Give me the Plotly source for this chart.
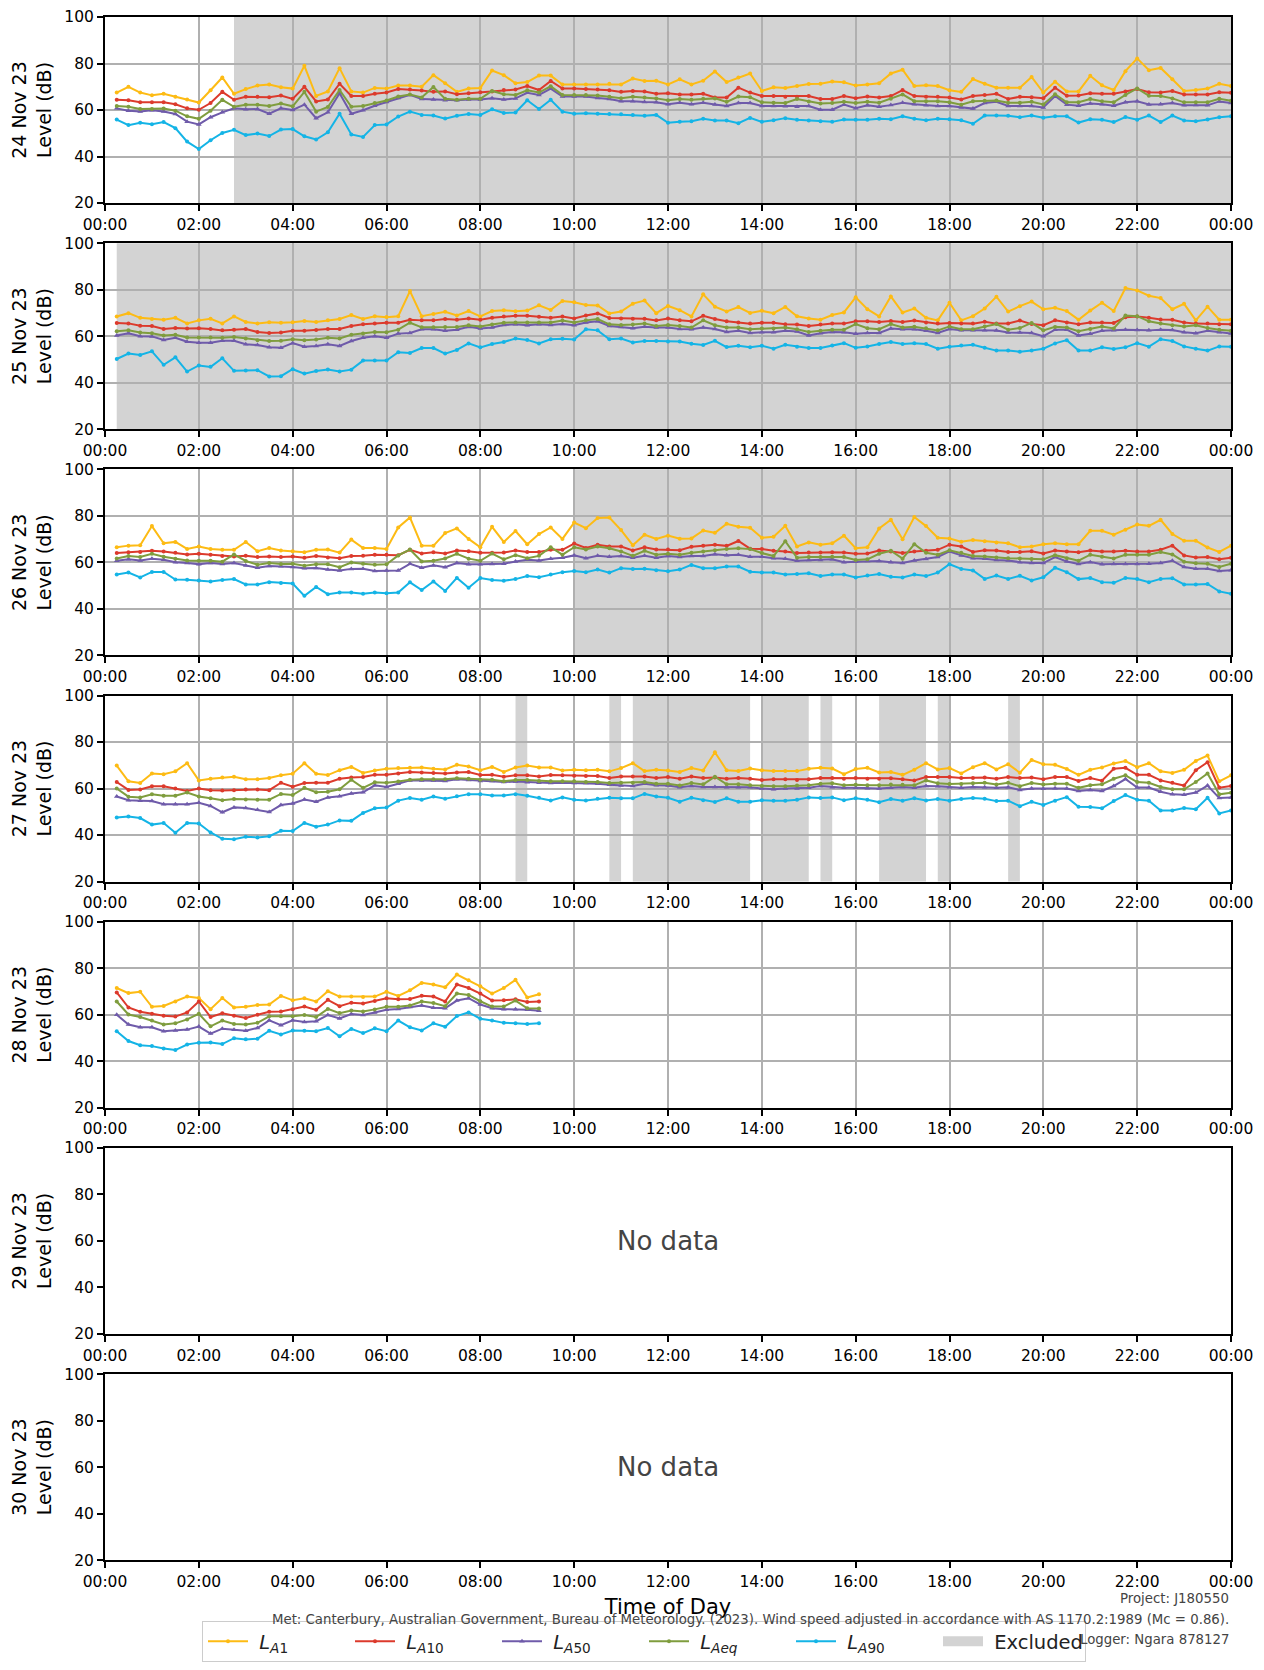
import datetime as dt
import plotly.graph_objects as go

# ---------------- data ----------------
days = ["24 Nov 23", "25 Nov 23", "26 Nov 23", "27 Nov 23", "28 Nov 23", "29 Nov 23", "30 Nov 23"]
series_names = ["LA1", "LA10", "LA50", "LAeq", "LA90"]
series_labels = ["<i>L</i><sub><i>A</i>1</sub>", "<i>L</i><sub><i>A</i>10</sub>",
                 "<i>L</i><sub><i>A</i>50</sub>", "<i>L</i><sub><i>Aeq</i></sub>",
                 "<i>L</i><sub><i>A</i>90</sub>"]

d24_la1 = [67.5, 70, 67.5, 66.3, 67, 65.7, 64.5, 63.2, 68.5, 74, 67, 69, 70.5, 71, 69.8, 69.2,
           79, 66, 68, 78, 68, 67.5, 69.5, 69.2, 70.5, 70.5, 70, 75, 71.5, 67.8, 69.2, 69.5,
           77, 75, 71.5, 72, 74.8, 74.8, 71, 71, 71, 71, 71.3,
           71, 73.5, 72.5, 72.6, 71, 73.2, 71, 72.6, 76.6, 72, 74, 75.7, 68.2, 69.8, 69.5, 70.3,
           71.2, 71.3, 72.3, 71.9, 70.5, 71, 71.5, 75.7, 77.3, 70.3, 70.6, 70.3, 68.5, 67.8, 73.3, 71.3,
           69.6, 69.6, 69.6, 74.2, 67.5, 72.2, 68, 68, 74.7, 70.6, 68.6, 76.7, 82.2, 77.1, 78.1, 73.2,
           68.2, 68.6, 69.2, 71.3, 70.3]
d24_la10 = [64.4, 64.2, 63.3, 63.3, 63.3, 62.5, 60.7, 60.1, 63, 67.8, 64.4, 65.7, 65.7, 65.5, 66.2, 64.8,
            70, 63.7, 64.5, 71.3, 66, 66, 67, 67.5, 69, 68.8, 68.4, 67.8, 68, 66.8, 67.2, 67.6,
            68, 68.6, 68.8, 70.3, 68.6, 72.5, 69.2, 69.2, 69, 68.8, 68.5,
            67.8, 68.2, 68, 67, 67.2, 66.7, 66.7, 67, 65.4, 65.4, 69.6, 67.5, 66, 66, 65.7, 65.7,
            66, 64.7, 64.7, 66, 65.1, 65.8, 65.4, 66, 68.6, 66, 65.7, 65.7, 65.4, 64.5, 66, 66.4,
            67, 64.7, 65.7, 65.5, 65.1, 69.6, 66.1, 66.2, 67.2, 67, 67, 68, 69, 67.6, 67.5, 68.2,
            66.7, 66.7, 66.7, 67.6, 67.4]
d24_la50 = [60.7, 59.7, 59.4, 59.9, 59.4, 58.3, 55, 53.8, 56.9, 59, 60.7, 60.3, 60.4, 58.4, 60.7, 60,
            62.3, 56.5, 59, 67.2, 58.4, 59.9, 61.8, 63.4, 65.2, 66.5, 64.7, 64.5, 64.2, 64.2, 64.5, 64.5,
            65.1, 64.5, 65, 67.4, 66.5, 69.2, 65.8, 65.8, 65.8, 65.2, 64.7,
            63.8, 63.8, 63.4, 63.3, 62.5, 63.1, 62.5, 63.1, 62.4, 61.7, 63, 63, 61.7, 61.7, 61.6, 61.4,
            61.7, 60.1, 60.1, 62.3, 60.8, 62, 61.4, 62.1, 63.1, 62.5, 62, 61.7, 61.7, 61.1, 60.6, 63,
            63.5, 61.7, 61.7, 61.7, 61.1, 66, 62.3, 61.8, 62.8, 62.5, 61.8, 63.3, 63.8, 62.4, 62.5, 63,
            62, 62.1, 62, 63.7, 63]
d24_laeq = [61.7, 61.4, 60.4, 60.4, 60.6, 59.7, 57.3, 56.2, 59.7, 64.4, 61.4, 62.3, 62.3, 61.7, 62.8, 61.6,
            67.8, 59.3, 61.3, 68.6, 61.4, 61.7, 63, 64.1, 65.8, 66.7, 65.4, 69.9, 64.8, 64.4, 64.8, 64.8,
            68.2, 66.8, 66.5, 68.5, 67.5, 70.2, 66.5, 66.4, 66.4, 66.2, 65.7,
            65.1, 65.7, 65.4, 65, 64.2, 64.7, 64.4, 64.8, 65, 63.5, 65.8, 65.5, 63.3, 63.1, 63, 64.7,
            63.7, 62.8, 63, 63.5, 63, 63.5, 63.1, 64.8, 66.7, 63.8, 63.8, 63.8, 63.3, 62.3, 63.8, 64,
            64.1, 63.1, 63.1, 63.5, 62.4, 66.8, 63.3, 63.3, 64.7, 63.8, 63.3, 66.5, 69.3, 66.1, 66, 65,
            63.3, 63.3, 63.3, 64.8, 64]
d24_la90 = [55.9, 53.5, 54.5, 53.9, 54.8, 52.2, 46.4, 43.2, 47, 50.1, 51.5, 49.2, 49.9, 48.8, 51.6, 51.8,
            48.7, 47.3, 50.4, 58.4, 49.5, 48.4, 53.5, 53.8, 57.2, 59.3, 57.9, 57.6, 56.3, 57.5, 58.3, 57.9,
            60.3, 58.7, 58.9, 64.2, 60.4, 64.4, 59.3, 58.4, 58.6, 58.4, 58.3,
            58.2, 57.9, 57.5, 57.9, 54.5, 55, 55.2, 56.2, 55.5, 55.5, 54.3, 56.6, 54.9, 55.6, 56.5, 55.8,
            55.5, 55.2, 54.9, 55.9, 55.8, 55.8, 56.2, 56, 57.3, 56.2, 55.6, 56.2, 56, 55.6, 54.1, 57.6,
            57.6, 57.5, 56.9, 57.6, 56.7, 57.3, 57.3, 54.6, 56, 55.8, 54.8, 57, 55.8, 57.6, 54.8, 57.6,
            55.5, 55.2, 55.9, 56.9, 57.3]

d25_la1 = [68.5, 69.9, 67.9, 67.4, 67.1, 67.9, 65.5, 66.8, 67.5, 65.5, 68.5, 66.1, 65.5, 66, 65.8, 66,
           66.5, 66.1, 66.8, 67.4, 69.1, 67.4, 68.6, 68.2, 68.6, 79.4, 68.6, 69.5, 70.5, 68.9, 70.8, 68.5,
           70.8, 71.2, 70.7, 71, 73.3, 71.3, 75.1, 74.6, 73.4, 73.2, 69.8,
           70.6, 74, 75.3, 69.9, 73, 71.2, 68.5, 78, 72.7, 70.6, 72.5, 70, 70.9, 69.9, 72.6, 68.6,
           67.6, 67.1, 69.1, 70.2, 76.7, 71.6, 68.5, 77.1, 70.2, 71.9, 67.9, 66.8, 74.4, 66.8, 68.6, 71.9,
           77, 70.6, 72.9, 74.9, 71.6, 72.2, 70.8, 67.1, 71, 74.4, 70.8, 80.7, 79.7, 77.4, 76.4, 71.6,
           73.9, 66.8, 72.7, 67.1, 67.1]
d25_la10 = [65.7, 65.5, 64.5, 64.4, 63.1, 63.5, 63.3, 63.4, 63.1, 62.5, 62.8, 63.1, 61.8, 61.4, 61.6, 62.3,
            62.3, 62.7, 63.1, 63.1, 64.4, 65.1, 65.5, 65.8, 65.8, 67.1, 66.8, 66.8, 67.4, 67.1, 67.6, 67.1,
            67.9, 68.5, 68.8, 68.8, 68.4, 67.9, 68.5, 67.6, 68.9, 69.8, 67.8,
            67.6, 67.5, 67.5, 66.8, 67.6, 66.9, 66.4, 68.8, 67.4, 66.4, 65.9, 65.4, 65.8, 65.8, 65.1, 65,
            64.4, 65, 65.4, 65.4, 66.4, 66.4, 66.1, 66.5, 66.1, 66.7, 65.9, 65.4, 65.7, 65.4, 65.4, 66.2,
            65.4, 65.5, 66.7, 65.2, 64.7, 66.8, 65.9, 65.1, 65.9, 65.9, 65.7, 68.1, 68.5, 67.9, 67.2, 67.1,
            65.9, 65.4, 65.4, 65.1, 65.1]
d25_la50 = [60.3, 61.3, 60, 59.9, 58.4, 59.3, 57.6, 57.2, 57.2, 58, 58, 56.5, 56.2, 55.2, 55, 57,
            55.5, 55.8, 56.5, 55.8, 57.9, 59.3, 60, 59.3, 61.1, 61.4, 63, 63, 62.3, 62.8, 64, 63.3,
            63.7, 64.8, 65.1, 64.7, 65.1, 64.8, 65.2, 64.7, 65.9, 66.4, 64.4,
            64, 63.4, 64.1, 63.7, 63.7, 63.1, 63, 63.7, 63.1, 61.8, 62.3, 61.4, 61.7, 61.7, 62.3, 62,
            60.3, 61.3, 61.8, 61.7, 61, 61.4, 61.4, 63.3, 63, 63, 62.3, 61.4, 63.1, 62.5, 62.5, 62.5,
            62.4, 61.6, 61.6, 61.4, 60, 62.8, 62.8, 60.3, 61, 62.3, 62.5, 62.8, 62.7, 62.5, 62.8, 62.7,
            61.7, 61.3, 62.3, 61.7, 61.1]
d25_laeq = [62.1, 62.5, 61.6, 61.3, 60.3, 60.6, 59.4, 59.4, 59.4, 59.3, 59.7, 59, 58.3, 57.9, 58, 58.7,
            58.3, 58.6, 59.3, 59, 60.6, 61.1, 61.8, 61.7, 62.8, 65.8, 63.8, 63.8, 64, 64, 64.7, 64.2,
            65, 65.8, 65.9, 65.9, 65.9, 65.9, 66.7, 65.9, 66.8, 67.4, 65.1,
            64.8, 65, 65.5, 64.4, 64.8, 64.4, 63.7, 66.8, 64.7, 63.7, 63.7, 63, 63.3, 63.3, 63.7, 63,
            61.8, 62.3, 62.8, 62.8, 65.2, 63.4, 63, 65.2, 63.7, 64.1, 63.4, 62.5, 64.2, 63, 63, 64.2,
            65.2, 62.8, 63.5, 65.7, 62.5, 64, 63.7, 62.1, 63.1, 64.2, 63.3, 68.9, 68.6, 66.4, 65.5, 64.7,
            64.2, 64.7, 63.5, 62.8, 62.3]
d25_la90 = [50.2, 52.5, 51.9, 53.5, 47.7, 50.9, 44.8, 47.4, 46.8, 50.5, 45.1, 45.2, 45.4, 42.7, 42.8, 45.8,
            43.9, 45, 45.7, 44.8, 45.6, 49.5, 49.5, 49.5, 53.1, 52.8, 54.9, 54.9, 52.5, 54.1, 56.9, 55.2,
            56.6, 57.5, 59, 58.4, 56.9, 58.7, 58.9, 58.6, 63, 62.5, 58.7,
            59, 57.3, 57.9, 57.9, 57.7, 57.7, 56.7, 56.2, 58, 55.3, 55.9, 55.2, 55.9, 54.6, 56.3, 55.5,
            54.9, 54.9, 56, 57, 55, 55.6, 56.6, 57.5, 56.6, 57, 56.6, 54.6, 55.5, 56, 56.3, 55,
            53.8, 53.8, 53.3, 53.8, 54.6, 56.9, 58.3, 53.8, 53.8, 55.2, 54.5, 55.2, 57, 55.5, 58.7, 57.9,
            55.6, 54.6, 53.8, 55.6, 55.5]

d26_la1 = [66.5, 67.2, 67.4, 75.6, 68.2, 68.8, 65.8, 66.8, 65.8, 65.4, 65.4, 68.8, 64.8, 66.2, 65.1, 64.8,
           64.4, 65.4, 65.5, 64.2, 69.8, 66.2, 66.2, 65.8, 75, 79.3, 67.2, 67.1, 72.6, 74.6, 70.1, 66.5,
           75.3, 68.8, 73.5, 67.8, 72.2, 75, 70.1, 77.1, 74.7, 79.1, 79.3,
           73.9, 67.4, 71.9, 70.1, 71.5, 70.2, 70.3, 73.7, 72.7, 76.6, 75.3, 74.9, 70.6, 71, 75.7, 66.8,
           68.6, 67.6, 68.2, 71.5, 66.1, 66.5, 74.6, 78.3, 69.9, 79.5, 75.6, 70.6, 70.3, 68.9, 69.6, 69.1,
           68.6, 68.2, 66.5, 66.8, 67.8, 68.2, 67.8, 67.8, 73.6, 73.6, 71.9, 74, 76.3, 75.7, 78.3, 72.2,
           69.3, 69.3, 66.4, 64.5, 67.2]
d26_la10 = [64, 64.4, 64.5, 65, 64.7, 64.1, 63.4, 63.7, 63.3, 62.7, 62.5, 62.8, 62.3, 62.5, 62.3, 62.5,
            62, 62.7, 62.1, 61.8, 62.7, 62.8, 63.3, 63.3, 63.1, 65.4, 63.8, 64.4, 63.8, 65.1, 64.8, 64.1,
            64.1, 64.2, 65.1, 64.5, 64.5, 65.4, 65.4, 68.1, 66.2, 67.6, 66.8,
            66.8, 65.1, 66.5, 65.5, 65.5, 65.2, 66.7, 67.1, 67.6, 67.1, 69.2, 65.9, 65.8, 65, 64.7, 64,
            64.2, 64.2, 64.4, 64.2, 63.7, 63.8, 65.1, 64.7, 64, 64.7, 65, 65.4, 67.6, 66.8, 64.5, 65.2,
            65.1, 64.5, 64.5, 64.8, 63.8, 65.1, 64.7, 64.4, 65.1, 64.7, 64.7, 65, 64.7, 64.7, 65.4, 67.2,
            63, 62.1, 62.3, 61.3, 62]
d26_la50 = [60.7, 61.3, 60.8, 61.6, 61.1, 60.1, 59.7, 59.2, 59.7, 59.3, 59.7, 58.7, 57.7, 58.4, 58.3, 58,
            57.5, 57.6, 56.9, 56.5, 57.2, 57.3, 56.3, 56.5, 56.5, 59.4, 57.7, 58.7, 57.9, 59.7, 59.2, 59.2,
            59.3, 59.4, 60.4, 61.1, 60.8, 61.6, 62, 63, 61.8, 62.8, 62.4,
            62.7, 62, 62.8, 62, 62.7, 62.3, 62.7, 62.7, 63.5, 63.1, 63.3, 62.4, 62.4, 61.8, 61.6, 60.7,
            61, 61, 61.3, 60.1, 60.3, 60.6, 60.6, 60.1, 59.7, 60.8, 61.4, 62.3, 64.7, 63, 61.8, 61.6,
            61, 60.8, 60.1, 59.7, 59.7, 62.3, 60.4, 59.3, 60.1, 59.2, 59.3, 59.3, 59.3, 59.4, 59.7, 60.7,
            58, 57.3, 57.3, 56.3, 56.6]
d26_laeq = [61.7, 62.7, 62.3, 63.7, 62.4, 61.6, 60.8, 60.7, 60.7, 60.3, 63.4, 60.6, 59, 59.7, 59.3, 59.4,
            58.6, 59.2, 59.2, 57.9, 59.9, 59.4, 59, 59.2, 63, 65.5, 60.4, 60.7, 61.7, 63.7, 61.6, 60.7,
            63.8, 61.3, 63.1, 61.8, 62.8, 66.5, 63.3, 66.5, 65.5, 66.8, 66.1,
            64.7, 62.8, 65, 63.3, 63.7, 63.3, 64.1, 64.7, 65.2, 65.7, 66.1, 65.7, 64, 62.7, 69.1, 62,
            62.3, 62.3, 62.4, 62.3, 61, 61.3, 63.7, 65, 61.6, 67.8, 64.1, 63.3, 65.2, 64.1, 62.7, 62.5,
            62.1, 61.8, 61.7, 61.4, 61.3, 63.1, 61.8, 60.7, 63.3, 62.4, 61.7, 63.3, 63.3, 63.3, 64.5, 63.4,
            60.3, 59.6, 59.4, 58, 59.4]
d26_la90 = [54.8, 55.6, 53.5, 55.9, 55.9, 52.6, 52.5, 52.2, 51.8, 52.4, 52.8, 50.5, 50.5, 51.5, 51.1, 50.9,
            45.6, 49.4, 46.3, 47, 47, 46.5, 47, 46.7, 47, 51.4, 48.1, 51.8, 47.7, 53.3, 49.1, 53.3,
            52.4, 52.1, 52.8, 54.1, 53.6, 54.8, 55.8, 56.3, 55.8, 56.9, 55.6,
            57.5, 57.2, 57.3, 56.6, 56.2, 56.9, 58.9, 57.5, 57.5, 58.2, 58.2, 56, 55.6, 55.6, 54.8, 55,
            55.3, 54.1, 54.8, 54.8, 53.5, 54.3, 55, 53.8, 53.5, 54.8, 54.1, 55.6, 59.2, 57.2, 56.5, 52.9,
            54.3, 52.9, 54.2, 52.2, 53.6, 57.7, 55.8, 52.8, 53.3, 51.5, 51.2, 53.3, 52.8, 51.5, 52.9, 53.2,
            50.5, 50.5, 50.7, 47.5, 46.5]

d27_la1 = [69.9, 63.1, 62.4, 66.5, 66.2, 67.4, 70.9, 63.5, 64.2, 64.8, 65.1, 64, 64, 64.5, 65.7, 66.4,
           70.9, 66.4, 65.8, 67.9, 69.3, 66.7, 67.8, 68.5, 68.8, 68.9, 69.1, 68.5, 68.2, 70.2, 69.5, 67.9,
           69.3, 67.1, 69.1, 69.9, 69.1, 69.1, 67.8, 68.1, 67.9, 68.1, 67.4,
           68.8, 70.9, 67.5, 68.1, 67.8, 67.1, 68.8, 67.8, 75.6, 67.9, 67.6, 68.6, 67.9, 67.5, 67.5, 67.5,
           68.5, 68.9, 68.6, 66.2, 68.4, 68.9, 66.9, 67.1, 65.9, 68.1, 70.9, 68.2, 68.8, 66.5, 69.2, 70.9,
           68.2, 70.5, 66.8, 72.3, 70.5, 70.2, 68.4, 65.9, 68.1, 69.1, 70.8, 71.8, 69.2, 70.9, 67.4, 66.7,
           68.1, 71.9, 74.2, 63.1, 65.7]
d27_la10 = [62.8, 59.4, 59.6, 61, 61, 60, 59, 60, 59.3, 59.2, 59.3, 59.6, 59.6, 59.3, 62.5, 60.8,
            62.4, 62.5, 62.5, 64.2, 64.8, 65, 65.9, 65.9, 66.5, 67.1, 66.9, 66.7, 66.5, 66.9, 67.1, 65.8,
            65.9, 65.1, 65.7, 65.7, 65.2, 65.8, 65.7, 65.5, 65.4, 65.4, 64.5,
            65.2, 65.2, 65.2, 64.5, 65, 64.2, 65.2, 64.5, 64.8, 64.2, 64.5, 64.2, 63.7, 64, 64, 63.7,
            64, 64.5, 64.5, 64.2, 64.5, 64.2, 64.2, 64.4, 64, 63.5, 65, 65, 65, 64.5, 64.5, 64.8,
            64.2, 65, 64.5, 64.8, 64, 65, 65, 63.3, 64.5, 63.4, 68.5, 68.9, 65.9, 65.9, 63.5, 62.5,
            61.3, 67.9, 71.3, 60.4, 61.1]
d27_la50 = [56.6, 55, 54.8, 54.6, 53.3, 53.2, 53.2, 53.9, 52.5, 49.8, 51.9, 51.6, 50.9, 49.9, 52.9, 53.6,
            55.3, 54.3, 56.2, 56.7, 57.9, 58.4, 61.4, 60.7, 62.1, 63.5, 63.5, 63.5, 63.3, 64, 63.7, 63.3,
            63.3, 62.8, 63, 62.7, 62.5, 62.4, 62.5, 62.4, 62.4, 62.1, 61.6,
            61.3, 61.1, 62.1, 61.4, 61.3, 60.6, 61.1, 60.7, 60.7, 60.6, 60.6, 60.6, 60, 59.7, 60, 60,
            60.3, 61.1, 60.6, 60.3, 60.3, 60.1, 60, 60.3, 60.7, 60.3, 61.1, 61, 60.6, 60.3, 60.7, 60.6,
            60.3, 60.6, 59.4, 60, 59.9, 60.1, 60, 59, 59.4, 59, 61.1, 64.1, 60.4, 60.4, 58.6, 57.5,
            57.3, 58.3, 61.3, 55.9, 56.2]
d27_laeq = [60, 56.5, 56.2, 57.5, 56.9, 56.9, 58.3, 56.6, 55.8, 55, 55.5, 55.3, 55.2, 55.2, 57.7, 57.2,
            60.3, 58.4, 58.6, 59.7, 63.8, 60.3, 62.7, 62.5, 63, 63.8, 64, 64, 64, 64.4, 64.2, 63.8,
            63.8, 63.1, 63.7, 63.7, 63.3, 63.1, 63.1, 63.1, 62.8, 62.8, 62.4,
            62.5, 62.5, 62.8, 62.1, 62.1, 61.3, 62.4, 61.8, 65.1, 61.8, 61.8, 61.4, 61.1, 61, 61, 61.3,
            61.4, 62.1, 62.3, 61.4, 61.6, 61.4, 61.4, 61.7, 61.6, 61.4, 63.5, 62.3, 62, 62, 62.3, 62.5,
            61.7, 62.5, 61, 62.4, 61.7, 62.1, 62.1, 60.3, 61.4, 61.8, 64.2, 65.7, 62.8, 62.5, 60.7, 59.7,
            59.7, 62.8, 66.5, 57.5, 58.2]
d27_la90 = [47.5, 48, 47.3, 44.5, 45.2, 41, 45.2, 45, 41.1, 38.4, 38.2, 39.3, 39, 39.5, 41.8, 41.7,
            45.2, 43.6, 44.5, 46.3, 46.1, 49.5, 51.5, 51.8, 54.8, 55.9, 55.2, 56.6, 55.6, 56.7, 57.6, 57.6,
            57, 57, 57.6, 56.9, 56, 54.9, 56.2, 55.2, 54.9, 55.6, 56,
            55.8, 55.8, 57.7, 56.6, 56, 54.3, 56, 55, 54.2, 55.8, 54.3, 54.3, 55, 54.8, 54.8, 55.2,
            56.2, 55.9, 56.2, 55, 55.8, 55.2, 54.1, 55.5, 54.8, 55.8, 54.9, 55.5, 54.8, 55.5, 55.9, 55.6,
            54.6, 54.8, 52.4, 54.3, 52.9, 54.8, 56.3, 52.2, 52.1, 51.5, 54.6, 57.2, 55.2, 54.8, 50.6, 50.6,
            51.6, 51.1, 56, 49.3, 50.6]

d28_la1 = [71.5, 69.3, 69.9, 63.4, 63.8, 65.7, 67.8, 67.2, 62.4, 67.2, 63.1, 63.4, 64.2, 64.4, 68.1, 66.2,
           67.1, 65.7, 70.1, 67.8, 67.8, 67.6, 67.8, 69.9, 68.1, 70.5, 73.7, 73, 71.8, 77.3, 74.8, 72.2,
           69.1, 71.5, 75, 67.4, 68.8]
d28_la10 = [69.6, 63.1, 61.3, 60.4, 59.6, 59.2, 61, 65.7, 59, 60.6, 59.6, 58.6, 60, 61.3, 61.4, 62.4,
            63.5, 62.1, 66.4, 63.7, 65.2, 64.8, 65.9, 67.1, 66.7, 66.8, 68.2, 67.8, 65.7, 73, 71.5, 69.1,
            66.1, 66.2, 66.7, 65.5, 65.7]
d28_la50 = [60, 55.8, 54.6, 54.6, 52.9, 53.2, 53.6, 54.9, 51.9, 54, 53.5, 53.1, 54.3, 57.6, 55.5, 57.6,
            56.9, 57.2, 59.9, 58.4, 60.3, 59.9, 61, 62.1, 62.5, 63.3, 64, 63, 62.8, 66.1, 67.1, 64.4,
            62.8, 62.4, 62.4, 62.1, 61.7]
d28_laeq = [65.7, 60.1, 59, 57.5, 55.8, 56.3, 58, 60.4, 55, 57.5, 56, 55.8, 56.5, 59.3, 59.3, 59.3,
            59.9, 59, 62.5, 60.7, 61.8, 61.4, 62.3, 63.4, 63.4, 64, 65.7, 65, 63.7, 69.1, 68.5, 65.8,
            63.5, 63.5, 66.1, 62.8, 62.7]
d28_la90 = [52.9, 48.7, 46.9, 46.5, 45.5, 44.8, 47.2, 48, 48.1, 47.4, 49.9, 49.4, 49.7, 53.1, 51.5, 53.2,
            53.1, 52.9, 54.3, 50.7, 53.9, 52.1, 54.2, 52.9, 57.5, 54.6, 53.2, 56.3, 54.8, 59.4, 61, 58.3,
            57.5, 56.5, 56.3, 56, 56.3]

# excluded periods (start, end) per day
ex24 = [("02:45", "24:00")]
ex25 = [("00:15", "24:00")]
ex26 = [("10:00", "24:00")]
ex27 = [("08:45", "09:00"), ("10:45", "11:00"), ("11:15", "13:45"), ("14:00", "15:00"),
        ("15:15", "15:30"), ("16:30", "17:30"), ("17:45", "18:00"), ("19:15", "19:30")]
ex28 = []

footnotes = ["Project: J180550",
             "Met: Canterbury, Australian Government, Bureau of Meteorology. (2023). Wind speed adjusted in accordance with AS 1170.2:1989 (Mc = 0.86).",
             "Logger: Ngara 878127"]

# ---------------- assembly ----------------
BASE = dt.datetime(2023, 1, 1)


def t(hhmm):
    h, m = map(int, hhmm.split(":"))
    return BASE + dt.timedelta(hours=h, minutes=m)


times = [BASE + dt.timedelta(minutes=15 * (i + 1)) for i in range(96)]

day_data = [
    [d24_la1, d24_la10, d24_la50, d24_laeq, d24_la90],
    [d25_la1, d25_la10, d25_la50, d25_laeq, d25_la90],
    [d26_la1, d26_la10, d26_la50, d26_laeq, d26_la90],
    [d27_la1, d27_la10, d27_la50, d27_laeq, d27_la90],
    [d28_la1, d28_la10, d28_la50, d28_laeq, d28_la90],
    None, None,
]
day_excl = [ex24, ex25, ex26, ex27, ex28, [], []]

colors = ["#FDBB14", "#DC3A2C", "#6F5BAA", "#7F9D3E", "#14B4E6"]
symbols = ["circle", "circle", "triangle-up", "circle", "circle"]
msizes = [4, 4, 5, 4, 4]

# page has an 8px body margin: figure coordinates = page coordinates - 8
OFF = 8
W, H = 1264 - 2 * OFF, 1670 - 2 * OFF
X0, X1 = 105 - OFF, 1231 - OFF
TOP0, PH = 17.0 - OFF, 186.0
LAST_BOTTOM = 1560.1 - OFF
STEP = (LAST_BOTTOM - TOP0 - PH) / 6
FONT = "DejaVu Sans"
NB = "\u00a0"

fig = go.Figure()
shapes = []
annotations = []

for i, day in enumerate(days):
    k = i + 1
    xa = "x" if k == 1 else f"x{k}"
    ya = "y" if k == 1 else f"y{k}"
    top = TOP0 + i * STEP
    bot = top + PH
    has_data = day_data[i] is not None

    if has_data:
        for j, vals in enumerate(day_data[i]):
            fig.add_trace(go.Scatter(
                x=times[:len(vals)], y=vals, xaxis=xa, yaxis=ya,
                mode="lines+markers", name=NB + series_labels[j],
                line=dict(color=colors[j], width=2),
                marker=dict(color=colors[j], size=msizes[j], symbol=symbols[j]),
                showlegend=(i == 0), legendgroup=series_names[j],
            ))
        for (s, e) in day_excl[i]:
            shapes.append(dict(type="rect", xref=xa, yref=f"{ya} domain", x0=t(s), x1=t(e),
                               y0=0, y1=1, fillcolor="#D3D3D3", line=dict(width=0), layer="below"))
    else:
        fig.add_trace(go.Scatter(x=[None], y=[None], xaxis=xa, yaxis=ya, showlegend=False))
        annotations.append(dict(text="No data", xref=f"{xa} domain", yref=f"{ya} domain",
                                x=0.5, y=0.5, showarrow=False,
                                font=dict(family=FONT, size=26, color="#444444")))

    axis_common = dict(ticks="outside", ticklen=6, tickwidth=1.5, tickcolor="black",
                       showline=True, linecolor="black", linewidth=2, mirror=True,
                       zeroline=False, automargin=False, ticklabeloverflow="allow",
                       tickfont=dict(family=FONT, size=15.5, color="black"),
                       gridcolor="#B0B0B0", gridwidth=1.5, showgrid=has_data)
    xcfg = dict(axis_common, domain=[X0 / W, X1 / W], anchor=ya, type="date",
                range=[t("00:00"), t("24:00")], tickformat="%H:%M",
                tick0=BASE, dtick=2 * 3600 * 1000)
    if k == len(days):
        xcfg["title"] = dict(text="Time of Day", standoff=10,
                             font=dict(family=FONT, size=21, color="black"))
    ycfg = dict(axis_common, domain=[1 - bot / H, 1 - top / H], anchor=xa,
                range=[20, 100], tick0=20, dtick=20,
                title=dict(text=f"{day}<br>Level (dB)", standoff=19,
                           font=dict(family=FONT, size=19, color="black")))
    fig.update_layout(**{("xaxis" if k == 1 else f"xaxis{k}"): xcfg,
                         ("yaxis" if k == 1 else f"yaxis{k}"): ycfg})

# legend entry for excluded periods
fig.add_trace(go.Scatter(x=[None, None], y=[None, None], mode="lines",
                         line=dict(width=12, color="#D3D3D3"),
                         name=NB + "Excluded", showlegend=True))

foot_y = [1598, 1619, 1639]
for txt, yp in zip(footnotes, foot_y):
    annotations.append(dict(text=txt, xref="paper", yref="paper", x=X1 / W, y=1 - (yp - OFF) / H,
                            xanchor="right", yanchor="middle", showarrow=False,
                            font=dict(family=FONT, size=13.3, color="#444444")))

fig.update_layout(
    width=W, height=H, margin=dict(l=0, r=0, t=0, b=0),
    paper_bgcolor="white", plot_bgcolor="white",
    shapes=shapes, annotations=annotations,
    font=dict(family=FONT, color="black"),
    legend=dict(orientation="h", x=(644 - OFF) / W, xanchor="center", y=0.0, yanchor="bottom",
                bgcolor="rgba(255,255,255,0.85)", bordercolor="#CCCCCC", borderwidth=1,
                font=dict(family=FONT, size=19.5, color="#222222"),
                entrywidth=92, entrywidthmode="pixels", itemwidth=40,
                traceorder="normal"),
    showlegend=True,
)

fig.write_html("out.html")
